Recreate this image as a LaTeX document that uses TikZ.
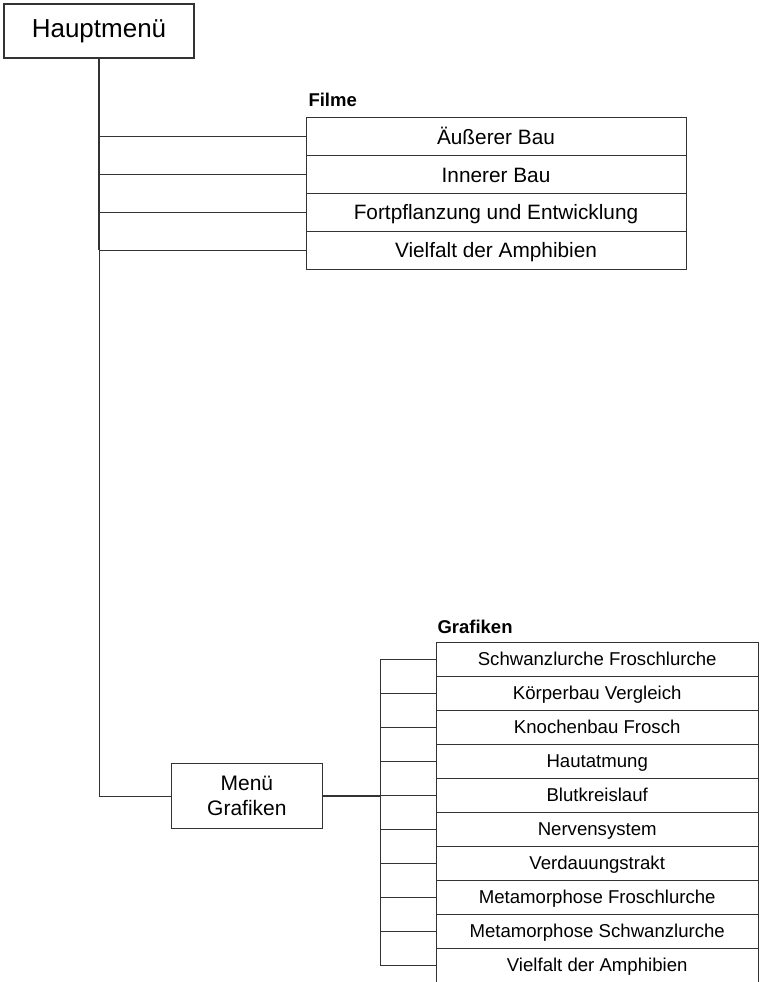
\documentclass[tikz,border=0pt]{standalone}
\usepackage{fontspec}
\setmainfont{Liberation Sans}
\definecolor{lc}{gray}{0.2}
\begin{document}
\begin{tikzpicture}[x=1pt,y=-1pt,
  box/.style={draw=lc, line width=1pt, inner sep=0pt, align=center},
  fbox/.style={box, minimum width=380pt, minimum height=37.8pt, text height=15pt, text depth=0.2pt, font=\fontsize{20.8}{24}\selectfont},
  gbox/.style={box, minimum width=321.7pt, minimum height=34.04pt, text height=13.4pt, text depth=1.8pt, font=\fontsize{18.6}{22}\selectfont},
  conn/.style={draw=lc, line width=1pt},
  thickconn/.style={draw=lc, line width=1.8pt},
  hdr/.style={anchor=base west, inner sep=0pt, font=\fontsize{18.5}{22}\selectfont\bfseries}]
\useasboundingbox (0,0) rectangle (764,982);

% main menu
\node[box, line width=2pt, minimum width=190pt, minimum height=54pt,
      font=\fontsize{26}{30}\selectfont] (hm) at (99,31) {Hauptmenü};

% Filme
\node[hdr] (filme) at (308.3,106.7) {Filme};
\node[fbox] (f1) at (496,136.8) {Äußerer Bau};
\node[fbox] (f2) at (496,174.6) {Innerer Bau};
\node[fbox] (f3) at (496,212.4) {Fortpflanzung und Entwicklung};
\node[fbox] (f4) at (496,250.2) {Vielfalt der Amphibien};

% Menü Grafiken
\node[box, minimum width=151.7pt, minimum height=65pt,
      font=\fontsize{21}{25}\selectfont] (mg) at (246.9,796.2) {Menü\\Grafiken};

% Grafiken
\node[hdr] (grafiken) at (437.3,633) {Grafiken};
\node[gbox] (g1) at (597.2,659.3) {Schwanzlurche Froschlurche};
\node[gbox] (g2) at (597.2,693.4) {Körperbau Vergleich};
\node[gbox] (g3) at (597.2,727.4) {Knochenbau Frosch};
\node[gbox] (g4) at (597.2,761.5) {Hautatmung};
\node[gbox] (g5) at (597.2,795.5) {Blutkreislauf};
\node[gbox] (g6) at (597.2,829.5) {Nervensystem};
\node[gbox] (g7) at (597.2,863.6) {Verdauungstrakt};
\node[gbox] (g8) at (597.2,897.6) {Metamorphose Froschlurche};
\node[gbox] (g9) at (597.2,931.7) {Metamorphose Schwanzlurche};
\node[gbox] (g10) at (597.2,965.7) {Vielfalt der Amphibien};

% trunk
\coordinate (bus) at (380,0);
\draw[thickconn] (hm.south) -- (hm.south |- f4.west);
\draw[conn] (hm.south |- f4.west) |- (mg.west);
\foreach \f in {f1,f2,f3,f4}
  \draw[conn] (hm.south |- \f.west) -- (\f.west);

% Grafiken bus
\draw[thickconn] (mg.east) -- (mg.east -| bus);
\draw[conn] (g1.west -| bus) -- (g10.west -| bus);
\foreach \g in {g1,g2,g3,g4,g5,g6,g7,g8,g9,g10}
  \draw[conn] (\g.west -| bus) -- (\g.west);
\end{tikzpicture}
\end{document}
